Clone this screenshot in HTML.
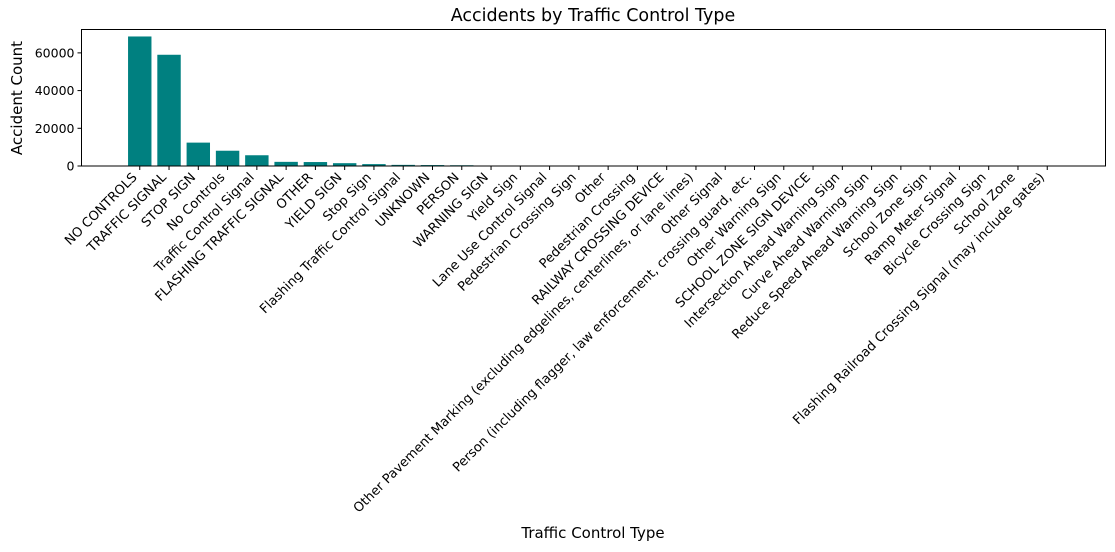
<!DOCTYPE html>
<html><head><meta charset="utf-8"><style>
body{margin:0;background:#fff;}
svg{font-family:"DejaVu Sans","Liberation Sans",sans-serif;}
</style></head><body>
<svg id="chart" width="1115" height="547">
<text x="593" y="21" font-size="17.5" text-anchor="middle">Accidents by Traffic Control Type</text>
<text transform="translate(22,98) rotate(-90)" font-size="15" text-anchor="middle">Accident Count</text>
<text x="593" y="538" font-size="15" text-anchor="middle">Traffic Control Type</text>
<g id="bars"></g><g id="yticks"></g><g id="xticks"></g>
<rect x="81.5" y="29.5" width="1024" height="136.5" fill="none" stroke="#000" stroke-width="1"/>
</svg>
<script>
const categories=["NO CONTROLS","TRAFFIC SIGNAL","STOP SIGN","No Controls","Traffic Control Signal","FLASHING TRAFFIC SIGNAL","OTHER","YIELD SIGN","Stop Sign","Flashing Traffic Control Signal","UNKNOWN","PERSON","WARNING SIGN","Yield Sign","Lane Use Control Signal","Pedestrian Crossing Sign","Other","Pedestrian Crossing","RAILWAY CROSSING DEVICE","Other Pavement Marking (excluding edgelines, centerlines, or lane lines)","Other Signal","Person (including flagger, law enforcement, crossing guard, etc.","Other Warning Sign","SCHOOL ZONE SIGN DEVICE","Intersection Ahead Warning Sign","Curve Ahead Warning Sign","Reduce Speed Ahead Warning Sign","School Zone Sign","Ramp Meter Signal","Bicycle Crossing Sign","School Zone","Flashing Railroad Crossing Signal (may include gates)"];
const counts=[68700,59000,12400,8100,5700,2200,2100,1500,1000,600,500,400,120,90,70,60,50,40,35,30,25,20,18,15,12,10,8,6,5,4,3,2];
const yTicks=[0,20000,40000,60000];
const ns="http://www.w3.org/2000/svg";
const L=81.5,R=1105.5,T=29.5,B=166,yMax=72400;
const n=categories.length,lo=-0.4-0.05*(n-0.2),hi=n-0.6+0.05*(n-0.2);
const xs=i=>L+(i-lo)/(hi-lo)*(R-L);
const ys=v=>B-v/yMax*(B-T);
const unit=(R-L)/(hi-lo);
const gb=document.getElementById('bars'),gy=document.getElementById('yticks'),gx=document.getElementById('xticks');
counts.forEach((v,i)=>{
 const r=document.createElementNS(ns,'rect');
 r.setAttribute('x',xs(i)-0.4*unit);r.setAttribute('width',0.8*unit);
 r.setAttribute('y',ys(v));r.setAttribute('height',B-ys(v));r.setAttribute('fill','#008080');
 
 
 gb.appendChild(r);
});
yTicks.forEach(t=>{
 const l=document.createElementNS(ns,'line');
 l.setAttribute('x1',L-4);l.setAttribute('x2',L);l.setAttribute('y1',ys(t));l.setAttribute('y2',ys(t));l.setAttribute('stroke','#000');
 
 
 gy.appendChild(l);
 const tx=document.createElementNS(ns,'text');
 tx.setAttribute('x',L-7);tx.setAttribute('y',ys(t)+4.5);tx.setAttribute('font-size','12.5');tx.setAttribute('text-anchor','end');
 tx.textContent=t;
 
 
 gy.appendChild(tx);
});
categories.forEach((c,i)=>{
 const x=xs(i);
 const l=document.createElementNS(ns,'line');
 l.setAttribute('x1',x);l.setAttribute('x2',x);l.setAttribute('y1',B);l.setAttribute('y2',B+4);l.setAttribute('stroke','#000');
 
 
 gx.appendChild(l);
 const tx=document.createElementNS(ns,'text');
 const ax=x-2,ay=B+12;
 tx.setAttribute('x',ax);tx.setAttribute('y',ay);tx.setAttribute('font-size','13');tx.setAttribute('text-anchor','end');
 tx.setAttribute('transform','rotate(-45 '+ax+' '+ay+')');
 tx.textContent=c;
 
 
 gx.appendChild(tx);
});
</script>
</body></html>
